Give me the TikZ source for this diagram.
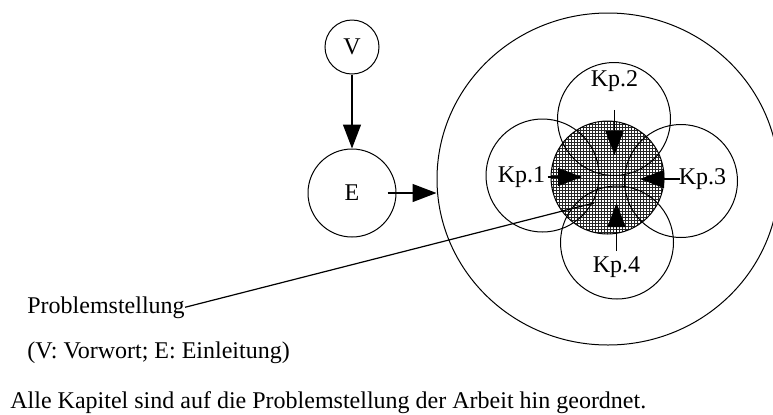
\documentclass[tikz,border=0pt,12pt]{standalone}
\usepackage{fontspec}
\setmainfont{Liberation Serif}
\usetikzlibrary{arrows.meta,positioning,patterns,shapes.geometric}
% fine screen for the shaded core
\pgfdeclarepatternformonly{finegrid}{\pgfqpoint{-.2pt}{-.2pt}}{\pgfqpoint{1.7pt}{1.7pt}}{\pgfqpoint{1.5pt}{1.5pt}}{%
  \pgfsetlinewidth{.45pt}%
  \pgfpathmoveto{\pgfqpoint{0pt}{.75pt}}\pgfpathlineto{\pgfqpoint{1.5pt}{.75pt}}%
  \pgfpathmoveto{\pgfqpoint{.75pt}{0pt}}\pgfpathlineto{\pgfqpoint{.75pt}{1.5pt}}%
  \pgfusepath{stroke}}
\tikzset{
  circ/.style={circle,draw,line width=.5pt,inner sep=0pt},
  kp/.style={circ,minimum size=56.5pt},
  txt/.style={inner sep=0pt,anchor=base west},
  lbl/.style={inner sep=1pt},
  arr/.style={-{Triangle[length=12pt,width=9pt]},line width=.65pt}
}
\begin{document}
\begin{tikzpicture}[x=.5pt,y=-.5pt]
  \useasboundingbox (0,0) rectangle (773,414);
  \node[ellipse,draw,line width=.5pt,minimum width=171pt,minimum height=166pt,inner sep=0pt] (outer) at (608,179) {};
  \node[circ,pattern=finegrid,pattern color=black!85,minimum size=56.5pt] (core) at (607.5,177.5) {};
  \node[kp] (k1) at (542.5,175.5) {};
  \node[kp] (k2) at (614,119) {};
  \node[kp] (k3) at (681,181) {};
  \node[kp] (k4) at (617,242.5) {};
  \node[lbl] (l1) at (521.5,177) {Kp.1};
  \node[lbl] (l2) at (614.5,81) {Kp.2};
  \node[lbl] (l3) at (702.5,179) {Kp.3};
  \node[lbl] (l4) at (616.5,267) {Kp.4};
  \draw[arr,shorten >=12.75pt] (l1.east) -- (l1.east -| core.center);
  \draw[arr,shorten <=8pt,shorten >=11.25pt] (l2.south) -- (l2.south |- core.center);
  \draw[arr,shorten <=-2pt,shorten >=16.25pt] (l3.west) -- (l3.west -| core.center);
  \draw[arr,shorten <=1.5pt,shorten >=12.75pt] (l4.north) -- (l4.north |- core.center);

  \node[circ,minimum size=27pt] (V) at (352,47) {V};
  \node[circ,minimum size=44pt] (E) at (352,193) {E};
  \draw[arr] (V) -- (E);
  \draw[arr,shorten <=-4.5pt] (E.east) -- (E.east -| outer.west);

  \node[txt] (ps) at (27,313) {Problemstellung};
  \coordinate (pt) at (594,203);
  \draw[line width=.6pt] (ps.east) -- (pt);
  \node[txt] (key) at (27,358) {(V: Vorwort; E: Einleitung)};
  \node[txt] (cap) at (10,408) {Alle Kapitel sind auf die Problemstellung der Arbeit hin geordnet.};
\end{tikzpicture}
\end{document}
